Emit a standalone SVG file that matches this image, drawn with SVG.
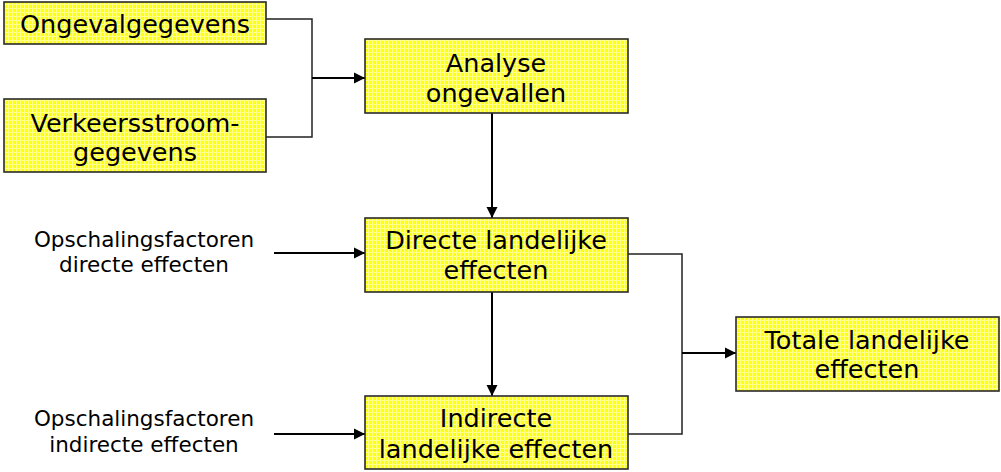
<svg xmlns="http://www.w3.org/2000/svg" width="1001" height="472" viewBox="0 0 1001 472">
<style>
.box{fill:url(#tex);stroke:#2a2a2a;stroke-width:1.6}
.t{font-family:"DejaVu Sans",Verdana,sans-serif;font-size:25.5px;fill:#000;text-anchor:middle}
.s{font-family:"DejaVu Sans",Verdana,sans-serif;font-size:21.5px;fill:#000;text-anchor:middle}
.ln{fill:none;stroke:#222;stroke-width:1.5}
.ar{fill:none;stroke:#000;stroke-width:2;marker-end:url(#ah)}
</style>
<defs>
<pattern id="tex" width="4" height="4" patternUnits="userSpaceOnUse">
<rect width="4" height="4" fill="#ffff10"/>
<rect width="4" height="1" fill="#ffff8c"/>
<rect width="1" height="4" fill="#ffff8c"/>
</pattern>
<marker id="ah" markerWidth="14" markerHeight="14" refX="11" refY="7" orient="auto" markerUnits="userSpaceOnUse">
<path d="M0,1.5 L11,7 L0,12.5 Z" fill="#000"/>
</marker>
</defs>
<rect width="1001" height="472" fill="#fff"/>
<g id="connectors">
<polyline class="ln" points="266,19 312,19 312,137 266,137"/>
<line class="ar" x1="312" y1="78" x2="365" y2="78"/>
<line class="ar" x1="492" y1="113" x2="492" y2="218"/>
<line class="ar" x1="274" y1="253" x2="365" y2="253"/>
<line class="ar" x1="492" y1="292" x2="492" y2="396"/>
<line class="ar" x1="274" y1="434" x2="365" y2="434"/>
<polyline class="ln" points="628,254 682,254 682,434 628,434"/>
<line class="ar" x1="682" y1="353" x2="736" y2="353"/>
</g>
<g id="ongevalgegevens">
<rect class="box" x="4" y="2" width="262" height="42"/>
<text class="t" x="135" y="33">Ongevalgegevens</text>
</g>
<g id="verkeersstroomgegevens">
<rect class="box" x="4" y="99" width="262" height="73"/>
<text class="t" x="135" y="132">Verkeersstroom-</text>
<text class="t" x="135" y="161">gegevens</text>
</g>
<g id="analyse">
<rect class="box" x="365" y="39" width="263" height="74"/>
<text class="t" x="496" y="72">Analyse</text>
<text class="t" x="496" y="102">ongevallen</text>
</g>
<g id="directe">
<rect class="box" x="365" y="218" width="263" height="74"/>
<text class="t" x="496" y="249">Directe landelijke</text>
<text class="t" x="496" y="279">effecten</text>
</g>
<g id="indirecte">
<rect class="box" x="365" y="396" width="263" height="73"/>
<text class="t" x="496" y="427">Indirecte</text>
<text class="t" x="496" y="458">landelijke effecten</text>
</g>
<g id="totale">
<rect class="box" x="736" y="317" width="263" height="74"/>
<text class="t" x="867" y="349">Totale landelijke</text>
<text class="t" x="867" y="378">effecten</text>
</g>
<g id="opschaling-direct">
<text class="s" x="144" y="247">Opschalingsfactoren</text>
<text class="s" x="144" y="272">directe effecten</text>
</g>
<g id="opschaling-indirect">
<text class="s" x="144" y="426">Opschalingsfactoren</text>
<text class="s" x="144" y="452">indirecte effecten</text>
</g>
</svg>
